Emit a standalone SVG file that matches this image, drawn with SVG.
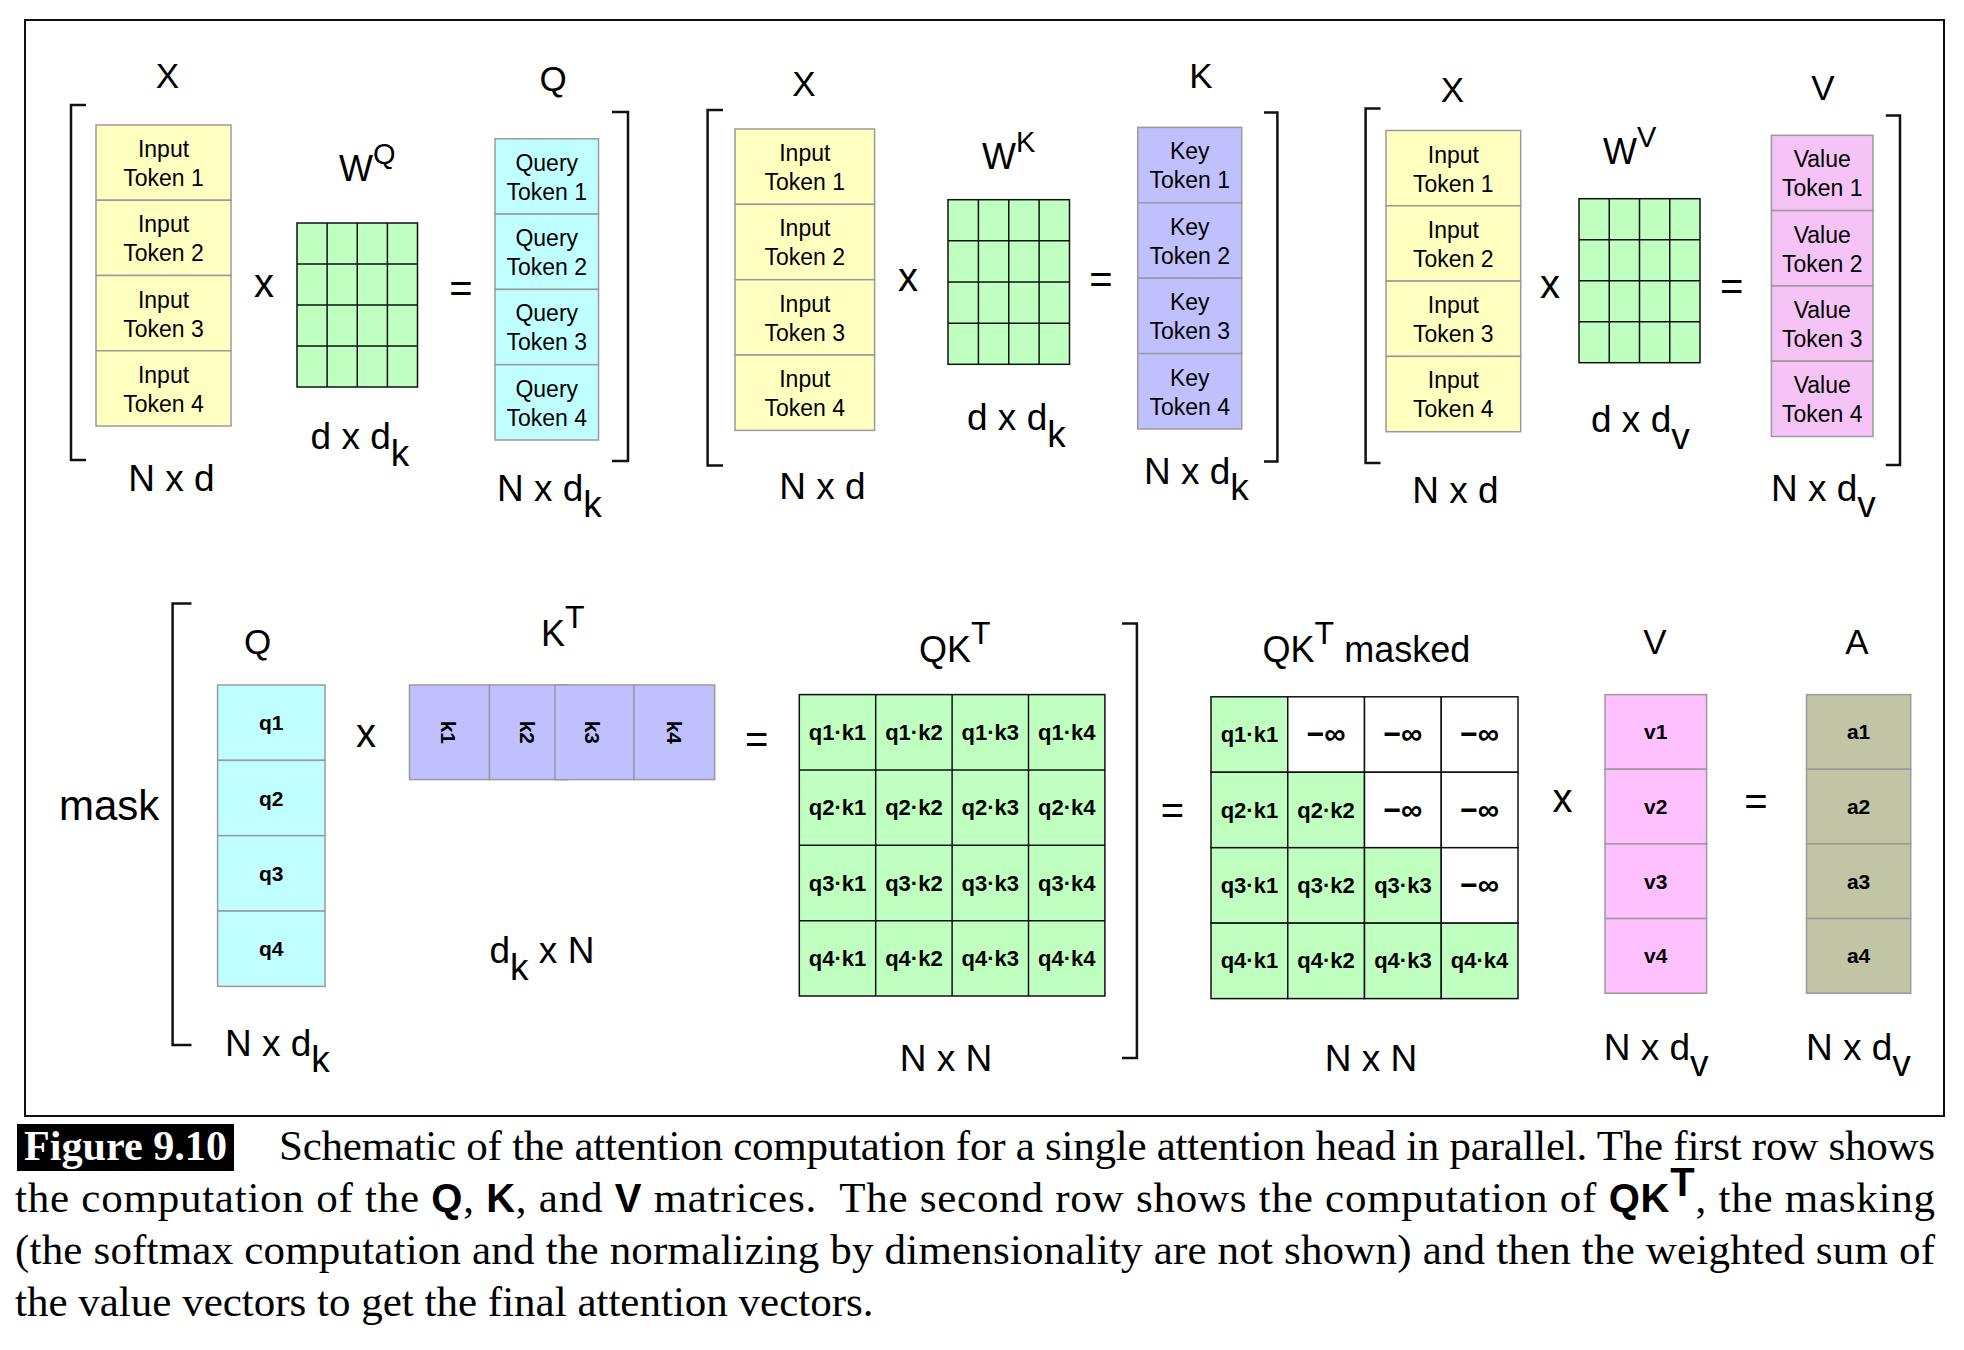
<svg xmlns="http://www.w3.org/2000/svg" width="1964" height="1350" viewBox="0 0 1964 1350">
<style>
.s{font-family:"Liberation Sans",Arial,Helvetica,sans-serif;fill:#000}
.tk{font-size:23px;text-anchor:middle}
.nm{font-size:35px;text-anchor:middle}
.dm{font-size:37px}
.op{font-size:40px;text-anchor:middle}
.b{font-weight:bold;font-size:21px;text-anchor:middle}
.c{font-weight:bold;font-size:22px;text-anchor:middle}
.inf{font-weight:bold;font-size:30px;text-anchor:middle}
.cell{stroke:#9a9a9a;stroke-width:1.5}
.inp{fill:#FFFFC0}
.qry{fill:#C0FFFF}
.key{fill:#C0C0FF}
.val{fill:#F5C3F5}
.valb{fill:#FFC0FF}
.att{fill:#C2C4A6}
.gr{fill:#BFFFBF;stroke:#111;stroke-width:1.5}
.wh{fill:#fff;stroke:#111;stroke-width:1.5}
.ln{stroke:#111;stroke-width:1.5}
.brk{fill:none;stroke:#111;stroke-width:2.5}
.cap{font-family:"Liberation Serif","Times New Roman",serif;font-size:43px;fill:#000}
.bs{font-family:"Liberation Sans",Arial,sans-serif;font-weight:bold;font-size:40px}
</style>
<rect x="25" y="20" width="1919" height="1096" fill="#fff" stroke="#111" stroke-width="2"/>

<g id="brackets">
<path class="brk" d="M86,105 H71 V460 H86"/>
<path class="brk" d="M612,112 H628 V461 H612"/>
<path class="brk" d="M723,110 H707.6 V465.6 H723"/>
<path class="brk" d="M1264,112.6 H1277.4 V461.4 H1264"/>
<path class="brk" d="M1380.5,108.5 H1365.6 V463 H1380.5"/>
<path class="brk" d="M1885.8,115.4 H1900 V465 H1885.8"/>
<path class="brk" d="M191.5,603.6 H172.6 V1045 H191.5"/>
<path class="brk" d="M1122,623.6 H1136.9 V1058 H1122"/>
</g>

<!-- ===== Top row: Q ===== -->
<g id="X1">
<text class="s nm" x="167.5" y="88">X</text>
<rect class="cell inp" x="96" y="125" width="135" height="75.25"/>
<rect class="cell inp" x="96" y="200.25" width="135" height="75.25"/>
<rect class="cell inp" x="96" y="275.5" width="135" height="75.25"/>
<rect class="cell inp" x="96" y="350.75" width="135" height="75.25"/>
<text class="s tk" x="163.5" y="157">Input</text><text class="s tk" x="163.5" y="186">Token 1</text>
<text class="s tk" x="163.5" y="232.25">Input</text><text class="s tk" x="163.5" y="261.25">Token 2</text>
<text class="s tk" x="163.5" y="307.5">Input</text><text class="s tk" x="163.5" y="336.5">Token 3</text>
<text class="s tk" x="163.5" y="382.75">Input</text><text class="s tk" x="163.5" y="411.75">Token 4</text>
<text class="s dm" x="171.5" y="491" text-anchor="middle">N x d</text>
</g>
<g id="WQ">
<text class="s" x="339" y="181" font-size="36">W<tspan dy="-17" font-size="29">Q</tspan></text>
<rect class="gr" x="297" y="223" width="120.5" height="164"/>
<path class="ln" d="M327.1,223 V387 M357.25,223 V387 M387.4,223 V387 M297,264 H417.5 M297,305 H417.5 M297,346 H417.5"/>
<text class="s dm" x="310.6" y="449">d x d<tspan dy="17">k</tspan></text>
</g>
<g id="ops1">
<text class="s op" x="264" y="297">x</text>
<text class="s op" x="461" y="302">=</text>
</g>
<g id="Q1">
<text class="s nm" x="553" y="91">Q</text>
<rect class="cell qry" x="495" y="138.8" width="103.5" height="75.3"/>
<rect class="cell qry" x="495" y="214.1" width="103.5" height="75.3"/>
<rect class="cell qry" x="495" y="289.4" width="103.5" height="75.3"/>
<rect class="cell qry" x="495" y="364.7" width="103.5" height="75.3"/>
<text class="s tk" x="546.75" y="170.8">Query</text><text class="s tk" x="546.75" y="199.8">Token 1</text>
<text class="s tk" x="546.75" y="246.1">Query</text><text class="s tk" x="546.75" y="275.1">Token 2</text>
<text class="s tk" x="546.75" y="321.4">Query</text><text class="s tk" x="546.75" y="350.4">Token 3</text>
<text class="s tk" x="546.75" y="396.7">Query</text><text class="s tk" x="546.75" y="425.7">Token 4</text>
<text class="s dm" x="497" y="501">N x d<tspan dy="16">k</tspan></text>
</g>

<!-- ===== Top row: K ===== -->
<g id="X2">
<text class="s nm" x="804" y="96">X</text>
<rect class="cell inp" x="735" y="129" width="139.6" height="75.35"/>
<rect class="cell inp" x="735" y="204.35" width="139.6" height="75.35"/>
<rect class="cell inp" x="735" y="279.7" width="139.6" height="75.35"/>
<rect class="cell inp" x="735" y="355.05" width="139.6" height="75.35"/>
<text class="s tk" x="804.8" y="161">Input</text><text class="s tk" x="804.8" y="190">Token 1</text>
<text class="s tk" x="804.8" y="236.35">Input</text><text class="s tk" x="804.8" y="265.35">Token 2</text>
<text class="s tk" x="804.8" y="311.7">Input</text><text class="s tk" x="804.8" y="340.7">Token 3</text>
<text class="s tk" x="804.8" y="387.05">Input</text><text class="s tk" x="804.8" y="416.05">Token 4</text>
<text class="s dm" x="822.5" y="499" text-anchor="middle">N x d</text>
</g>
<g id="WK">
<text class="s" x="982" y="168.7" font-size="36">W<tspan dy="-17" font-size="29">K</tspan></text>
<rect class="gr" x="948" y="199.7" width="121.5" height="164.6"/>
<path class="ln" d="M978.4,199.7 V364.3 M1008.75,199.7 V364.3 M1039.1,199.7 V364.3 M948,240.85 H1069.5 M948,282 H1069.5 M948,323.15 H1069.5"/>
<text class="s dm" x="967" y="430.4">d x d<tspan dy="17">k</tspan></text>
</g>
<g id="ops2">
<text class="s op" x="908" y="291">x</text>
<text class="s op" x="1101" y="293">=</text>
</g>
<g id="K1">
<text class="s nm" x="1201" y="88">K</text>
<rect class="cell key" x="1137.7" y="127.4" width="104" height="75.4"/>
<rect class="cell key" x="1137.7" y="202.8" width="104" height="75.4"/>
<rect class="cell key" x="1137.7" y="278.2" width="104" height="75.4"/>
<rect class="cell key" x="1137.7" y="353.6" width="104" height="75.4"/>
<text class="s tk" x="1189.7" y="159.4">Key</text><text class="s tk" x="1189.7" y="188.4">Token 1</text>
<text class="s tk" x="1189.7" y="234.8">Key</text><text class="s tk" x="1189.7" y="263.8">Token 2</text>
<text class="s tk" x="1189.7" y="310.2">Key</text><text class="s tk" x="1189.7" y="339.2">Token 3</text>
<text class="s tk" x="1189.7" y="385.6">Key</text><text class="s tk" x="1189.7" y="414.6">Token 4</text>
<text class="s dm" x="1144" y="484">N x d<tspan dy="16">k</tspan></text>
</g>

<!-- ===== Top row: V ===== -->
<g id="X3">
<text class="s nm" x="1452.5" y="101.6">X</text>
<rect class="cell inp" x="1386" y="130.5" width="134.7" height="75.3"/>
<rect class="cell inp" x="1386" y="205.8" width="134.7" height="75.3"/>
<rect class="cell inp" x="1386" y="281.1" width="134.7" height="75.3"/>
<rect class="cell inp" x="1386" y="356.4" width="134.7" height="75.3"/>
<text class="s tk" x="1453.35" y="162.5">Input</text><text class="s tk" x="1453.35" y="191.5">Token 1</text>
<text class="s tk" x="1453.35" y="237.8">Input</text><text class="s tk" x="1453.35" y="266.8">Token 2</text>
<text class="s tk" x="1453.35" y="313.1">Input</text><text class="s tk" x="1453.35" y="342.1">Token 3</text>
<text class="s tk" x="1453.35" y="388.4">Input</text><text class="s tk" x="1453.35" y="417.4">Token 4</text>
<text class="s dm" x="1455.5" y="503" text-anchor="middle">N x d</text>
</g>
<g id="WV">
<text class="s" x="1603" y="163.6" font-size="36">W<tspan dy="-17" font-size="29">V</tspan></text>
<rect class="gr" x="1579" y="198.7" width="121" height="164"/>
<path class="ln" d="M1609.25,198.7 V362.7 M1639.5,198.7 V362.7 M1669.75,198.7 V362.7 M1579,239.7 H1700 M1579,280.7 H1700 M1579,321.7 H1700"/>
<text class="s dm" x="1591" y="432">d x d<tspan dy="17">v</tspan></text>
</g>
<g id="ops3">
<text class="s op" x="1550" y="298">x</text>
<text class="s op" x="1731.6" y="300">=</text>
</g>
<g id="V1">
<text class="s nm" x="1823" y="100">V</text>
<rect class="cell val" x="1771.4" y="135.3" width="101.6" height="75.3"/>
<rect class="cell val" x="1771.4" y="210.6" width="101.6" height="75.3"/>
<rect class="cell val" x="1771.4" y="285.9" width="101.6" height="75.3"/>
<rect class="cell val" x="1771.4" y="361.2" width="101.6" height="75.3"/>
<text class="s tk" x="1822.2" y="167.3">Value</text><text class="s tk" x="1822.2" y="196.3">Token 1</text>
<text class="s tk" x="1822.2" y="242.6">Value</text><text class="s tk" x="1822.2" y="271.6">Token 2</text>
<text class="s tk" x="1822.2" y="317.9">Value</text><text class="s tk" x="1822.2" y="346.9">Token 3</text>
<text class="s tk" x="1822.2" y="393.2">Value</text><text class="s tk" x="1822.2" y="422.2">Token 4</text>
<text class="s dm" x="1771" y="501">N x d<tspan dy="16">v</tspan></text>
</g>

<!-- ===== Bottom row ===== -->
<g id="mask">
<text class="s" x="59" y="820" font-size="42">mask</text>
</g>
<g id="Q2">
<text class="s nm" x="257.6" y="653.6">Q</text>
<rect class="cell qry" x="217.6" y="685" width="107.4" height="75.35"/>
<rect class="cell qry" x="217.6" y="760.35" width="107.4" height="75.35"/>
<rect class="cell qry" x="217.6" y="835.7" width="107.4" height="75.35"/>
<rect class="cell qry" x="217.6" y="911.05" width="107.4" height="75.35"/>
<text class="s b" x="271.3" y="730.2">q1</text>
<text class="s b" x="271.3" y="805.5">q2</text>
<text class="s b" x="271.3" y="880.9">q3</text>
<text class="s b" x="271.3" y="956.2">q4</text>
<text class="s dm" x="225" y="1055.7">N x d<tspan dy="16">k</tspan></text>
</g>
<g id="ops4">
<text class="s op" x="366" y="746.5">x</text>
<text class="s op" x="756.8" y="753">=</text>
<text class="s op" x="1172.5" y="824">=</text>
<text class="s op" x="1562.6" y="812">x</text>
<text class="s op" x="1756" y="815">=</text>
</g>
<g id="KT">
<text class="s" x="541" y="646" font-size="36">K<tspan dy="-18" font-size="32">T</tspan></text>
<rect class="cell key" x="409.5" y="685" width="80" height="94.6"/>
<rect class="cell key" x="489.5" y="685" width="78.5" height="94.6"/>
<rect class="cell key" x="555" y="685" width="79" height="94.6"/>
<rect class="cell key" x="634" y="685" width="80.7" height="94.6"/>
<text class="s b" transform="translate(448.5,732.3) rotate(90)" dy="0.36em">k1</text>
<text class="s b" transform="translate(528,732.3) rotate(90)" dy="0.36em">k2</text>
<text class="s b" transform="translate(592.5,732.3) rotate(90)" dy="0.36em">k3</text>
<text class="s b" transform="translate(675,732.3) rotate(90)" dy="0.36em">k4</text>
<text class="s dm" x="489.5" y="963">d<tspan dy="17">k</tspan><tspan dy="-17"> x N</tspan></text>
</g>
<g id="QKT">
<text class="s" x="919" y="662" font-size="36">QK<tspan dy="-18" font-size="32">T</tspan></text>
<rect class="gr" x="799.3" y="694.6" width="305.6" height="301.4"/>
<path class="ln" d="M875.7,694.6 V996 M952.1,694.6 V996 M1028.5,694.6 V996 M799.3,769.95 H1104.9 M799.3,845.3 H1104.9 M799.3,920.65 H1104.9"/>
<text class="s c" x="837.5" y="740">q1·k1</text><text class="s c" x="913.9" y="740">q1·k2</text><text class="s c" x="990.3" y="740">q1·k3</text><text class="s c" x="1066.7" y="740">q1·k4</text>
<text class="s c" x="837.5" y="815.3">q2·k1</text><text class="s c" x="913.9" y="815.3">q2·k2</text><text class="s c" x="990.3" y="815.3">q2·k3</text><text class="s c" x="1066.7" y="815.3">q2·k4</text>
<text class="s c" x="837.5" y="890.7">q3·k1</text><text class="s c" x="913.9" y="890.7">q3·k2</text><text class="s c" x="990.3" y="890.7">q3·k3</text><text class="s c" x="1066.7" y="890.7">q3·k4</text>
<text class="s c" x="837.5" y="966">q4·k1</text><text class="s c" x="913.9" y="966">q4·k2</text><text class="s c" x="990.3" y="966">q4·k3</text><text class="s c" x="1066.7" y="966">q4·k4</text>
<text class="s dm" x="946" y="1070.7" text-anchor="middle">N x N</text>
</g>
<g id="QKTmasked">
<text class="s" x="1262.6" y="662" font-size="36">QK<tspan dy="-18" font-size="32">T</tspan><tspan dy="18"> masked</tspan></text>
<rect class="gr" x="1211" y="696.8" width="76.75" height="75.45"/>
<rect class="wh" x="1287.75" y="696.8" width="76.75" height="75.45"/>
<rect class="wh" x="1364.5" y="696.8" width="76.75" height="75.45"/>
<rect class="wh" x="1441.25" y="696.8" width="76.75" height="75.45"/>
<rect class="gr" x="1211" y="772.25" width="76.75" height="75.45"/>
<rect class="gr" x="1287.75" y="772.25" width="76.75" height="75.45"/>
<rect class="wh" x="1364.5" y="772.25" width="76.75" height="75.45"/>
<rect class="wh" x="1441.25" y="772.25" width="76.75" height="75.45"/>
<rect class="gr" x="1211" y="847.7" width="76.75" height="75.45"/>
<rect class="gr" x="1287.75" y="847.7" width="76.75" height="75.45"/>
<rect class="gr" x="1364.5" y="847.7" width="76.75" height="75.45"/>
<rect class="wh" x="1441.25" y="847.7" width="76.75" height="75.45"/>
<rect class="gr" x="1211" y="923.15" width="76.75" height="75.45"/>
<rect class="gr" x="1287.75" y="923.15" width="76.75" height="75.45"/>
<rect class="gr" x="1364.5" y="923.15" width="76.75" height="75.45"/>
<rect class="gr" x="1441.25" y="923.15" width="76.75" height="75.45"/>
<text class="s c" x="1249.4" y="742">q1·k1</text><text class="s inf" x="1326.1" y="744">−∞</text><text class="s inf" x="1402.9" y="744">−∞</text><text class="s inf" x="1479.6" y="744">−∞</text>
<text class="s c" x="1249.4" y="817.5">q2·k1</text><text class="s c" x="1326.1" y="817.5">q2·k2</text><text class="s inf" x="1402.9" y="819.5">−∞</text><text class="s inf" x="1479.6" y="819.5">−∞</text>
<text class="s c" x="1249.4" y="893">q3·k1</text><text class="s c" x="1326.1" y="893">q3·k2</text><text class="s c" x="1402.9" y="893">q3·k3</text><text class="s inf" x="1479.6" y="895">−∞</text>
<text class="s c" x="1249.4" y="968.4">q4·k1</text><text class="s c" x="1326.1" y="968.4">q4·k2</text><text class="s c" x="1402.9" y="968.4">q4·k3</text><text class="s c" x="1479.6" y="968.4">q4·k4</text>
<text class="s dm" x="1371" y="1070.7" text-anchor="middle">N x N</text>
</g>
<g id="V2">
<text class="s nm" x="1655" y="653.6">V</text>
<rect class="cell valb" x="1605" y="694.6" width="101.6" height="74.65"/>
<rect class="cell valb" x="1605" y="769.25" width="101.6" height="74.65"/>
<rect class="cell valb" x="1605" y="843.9" width="101.6" height="74.65"/>
<rect class="cell valb" x="1605" y="918.55" width="101.6" height="74.65"/>
<text class="s b" x="1655.8" y="739.4">v1</text>
<text class="s b" x="1655.8" y="814">v2</text>
<text class="s b" x="1655.8" y="888.7">v3</text>
<text class="s b" x="1655.8" y="963.4">v4</text>
<text class="s dm" x="1603.7" y="1060">N x d<tspan dy="16">v</tspan></text>
</g>
<g id="A">
<text class="s nm" x="1857" y="653.6">A</text>
<rect class="cell att" x="1806.5" y="694.6" width="104.2" height="74.65"/>
<rect class="cell att" x="1806.5" y="769.25" width="104.2" height="74.65"/>
<rect class="cell att" x="1806.5" y="843.9" width="104.2" height="74.65"/>
<rect class="cell att" x="1806.5" y="918.55" width="104.2" height="74.65"/>
<text class="s b" x="1858.6" y="739.4">a1</text>
<text class="s b" x="1858.6" y="814">a2</text>
<text class="s b" x="1858.6" y="888.7">a3</text>
<text class="s b" x="1858.6" y="963.4">a4</text>
<text class="s dm" x="1806" y="1060">N x d<tspan dy="16">v</tspan></text>
</g>

<!-- ===== Caption ===== -->
<g id="caption">
<rect x="17" y="1124" width="217" height="47" fill="#000"/>
<text x="24" y="1160" font-family="'Liberation Serif','Times New Roman',serif" font-size="42" font-weight="bold" fill="#fff" textLength="203" lengthAdjust="spacingAndGlyphs">Figure 9.10</text>
<text class="cap" x="279" y="1160" textLength="1656" lengthAdjust="spacing">Schematic of the attention computation for a single attention head in parallel. The first row shows</text>
<text class="cap" x="15" y="1212" textLength="1920" lengthAdjust="spacing">the computation of the <tspan class="bs">Q</tspan>, <tspan class="bs">K</tspan>, and <tspan class="bs">V</tspan> matrices.&#160; The second row shows the computation of <tspan class="bs">QK</tspan><tspan class="bs" dy="-16" font-size="28">T</tspan><tspan dy="16">, the masking</tspan></text>
<text class="cap" x="15" y="1264" textLength="1920" lengthAdjust="spacing">(the softmax computation and the normalizing by dimensionality are not shown) and then the weighted sum of</text>
<text class="cap" x="15" y="1316">the value vectors to get the final attention vectors.</text>
</g>
</svg>
